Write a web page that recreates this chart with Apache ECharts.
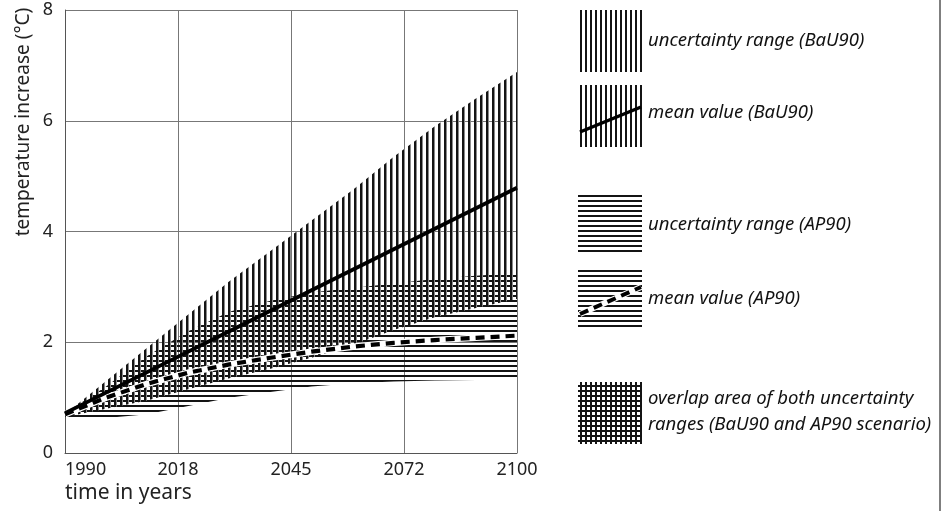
<!DOCTYPE html>
<html><head><meta charset="utf-8">
<script src="https://cdn.jsdelivr.net/npm/echarts@6/dist/echarts.min.js"></script>
<style>html,body{margin:0;padding:0;background:#fff}#c{width:942px;height:511px}</style>
</head><body><div id="c"></div>
<script>
// ---- data ----
const years    = [1990, 2000, 2010, 2020, 2030, 2040, 2050, 2060, 2070, 2080, 2090, 2100];
const bauUpper = [0.70, 1.30, 1.90, 2.50, 3.10, 3.65, 4.20, 4.75, 5.35, 5.90, 6.40, 6.88];
const bauMean  = [0.72, 1.09, 1.46, 1.83, 2.20, 2.57, 2.94, 3.31, 3.68, 4.05, 4.42, 4.79];
const bauLower = [0.65, 0.80, 0.95, 1.15, 1.35, 1.52, 1.72, 1.95, 2.22, 2.45, 2.62, 2.78];
const apUpper  = [0.72, 1.20, 1.75, 2.20, 2.55, 2.75, 2.90, 2.98, 3.06, 3.14, 3.20, 3.25];
const apMean   = [0.70, 1.00, 1.25, 1.45, 1.60, 1.72, 1.83, 1.92, 1.99, 2.04, 2.08, 2.12];
const apLower  = [0.65, 0.63, 0.70, 0.85, 1.00, 1.10, 1.20, 1.26, 1.29, 1.31, 1.32, 1.33];
const xTickLabels = ['1990', '2018', '2045', '2072', '2100'];
const yTicks = [0, 2, 4, 6, 8];
const legendTexts = [
  'uncertainty range (BaU90)',
  'mean value (BaU90)',
  'uncertainty range (AP90)',
  'mean value (AP90)',
  'overlap area of both uncertainty\nranges (BaU90 and AP90 scenario)'
];

// ---- hatch patterns ----
const INK = '#141414';
function vHatch(period, w, soft) {
  const c = document.createElement('canvas');
  c.width = period; c.height = period;
  const ctx = c.getContext('2d');
  ctx.fillStyle = INK; ctx.fillRect(0, 0, w, period);
  if (soft) { ctx.fillStyle = '#8a8a8a'; ctx.fillRect(w, 0, 1, period); }
  return c;
}
function hHatch(period, w) {
  const c = document.createElement('canvas');
  c.width = period; c.height = period;
  const ctx = c.getContext('2d');
  ctx.fillStyle = INK; ctx.fillRect(0, 0, period, w);
  return c;
}
function cross(p, w) {
  const c = document.createElement('canvas');
  c.width = p; c.height = p;
  const ctx = c.getContext('2d');
  ctx.fillStyle = INK;
  ctx.fillRect(0, 0, w, p);
  ctx.fillRect(0, 0, p, w);
  return c;
}
const vPatChart  = { image: vHatch(6, 2, true), repeat: 'repeat' };
const vPatLegend = { image: vHatch(5, 2, false), repeat: 'repeat' };
const hPat = { image: hHatch(5, 2), repeat: 'repeat' };
const xPat = { image: cross(5, 2), repeat: 'repeat' };

const pairs = arr => years.map((y, i) => [y, arr[i]]);
const FONT = '"Noto Sans", "Open Sans", sans-serif';

function bandSeries(name, lower, upper, pat, z) {
  return {
    name: name, type: 'custom', z: z, silent: true, clip: true,
    data: years.map((y, i) => [y, lower[i], upper[i]]),
    encode: { x: 0, y: [1, 2] },
    renderItem: function (params, api) {
      if (params.dataIndex !== 0) return null;
      const pts = [];
      for (let i = 0; i < years.length; i++) pts.push(api.coord([years[i], upper[i]]));
      for (let i = years.length - 1; i >= 0; i--) pts.push(api.coord([years[i], lower[i]]));
      return { type: 'polygon', shape: { points: pts }, style: { fill: pat, stroke: null } };
    }
  };
}

const series = [
  bandSeries('AP90 range', apLower, apUpper, hPat, 2),
  bandSeries('BaU90 range', bauLower, bauUpper, vPatChart, 3),
  { name: 'BaU90 mean', type: 'line', data: pairs(bauMean), showSymbol: false,
    lineStyle: { color: '#000', width: 3.8 }, z: 6 },
  { name: 'AP90 mean bg', type: 'line', data: pairs(apMean), showSymbol: false,
    lineStyle: { color: '#fff', width: 6.5 }, z: 5 },
  { name: 'AP90 mean', type: 'line', data: pairs(apMean), showSymbol: false,
    lineStyle: { color: '#000', width: 4.2, type: [9, 6] }, z: 6 }
];

// ---- legend built as graphics ----
const LX = 578, LW = 64;
const boxes = [
  { y: 10, h: 62, fill: vPatLegend },
  { y: 85, h: 62, fill: vPatLegend },
  { y: 195, h: 57, fill: hPat },
  { y: 268, h: 59, fill: hPat },
  { y: 382, h: 62, fill: xPat }
];
const textY = [41, 113, 225, 299, 412];
const graphic = [];
boxes.forEach((b, i) => {
  graphic.push({ type: 'rect', shape: { x: LX, y: b.y, width: LW, height: b.h }, style: { fill: b.fill }, silent: true });
  graphic.push({ type: 'text', x: 648, y: textY[i],
    style: { text: legendTexts[i], font: 'italic 18.5px ' + FONT, fill: '#111', align: 'left', verticalAlign: 'middle', lineHeight: 26 } });
});
graphic.push({ type: 'line', shape: { x1: 580, y1: 132, x2: 641, y2: 107 }, style: { stroke: '#000', lineWidth: 3.5 } });
graphic.push({ type: 'line', shape: { x1: 580, y1: 314, x2: 641, y2: 287 }, style: { stroke: '#fff', lineWidth: 6 } });
graphic.push({ type: 'line', shape: { x1: 580, y1: 314, x2: 641, y2: 287 }, style: { stroke: '#000', lineWidth: 4, lineDash: [9, 6] } });
graphic.push({ type: 'text', x: 24, y: 122, rotation: Math.PI / 2,
  style: { text: 'temperature increase (°C)', font: '19px ' + FONT, fill: '#222', align: 'center', verticalAlign: 'middle' } });
graphic.push({ type: 'text', x: 65, y: 493,
  style: { text: 'time in years', font: '21px ' + FONT, fill: '#222', align: 'left', verticalAlign: 'middle' } });
graphic.push({ type: 'line', shape: { x1: 940, y1: 0, x2: 940, y2: 511 }, style: { stroke: '#555', lineWidth: 1.5 } });

const chart = echarts.init(document.getElementById('c'), null, { renderer: 'canvas' });
chart.setOption({
  animation: false,
  backgroundColor: '#fff',
  grid: { left: 65, right: 425, top: 10, bottom: 58, containLabel: false },
  xAxis: [
    { type: 'value', min: years[0], max: years[years.length - 1], show: false },
    { type: 'value', min: 0, max: xTickLabels.length - 1, interval: 1, position: 'bottom',
      axisLine: { show: true, onZero: false, lineStyle: { color: '#555', width: 1 } },
      axisTick: { show: false },
      splitLine: { show: true, lineStyle: { color: '#777', width: 1 } },
      axisLabel: { formatter: v => xTickLabels[Math.round(v)], fontSize: 18, color: '#222', margin: 8,
        fontFamily: FONT, alignMinLabel: 'left' } }
  ],
  yAxis: {
    type: 'value', min: yTicks[0], max: yTicks[yTicks.length - 1], interval: yTicks[1] - yTicks[0],
    axisLine: { show: true, lineStyle: { color: '#555', width: 1 } },
    axisTick: { show: false },
    splitLine: { show: true, lineStyle: { color: '#777', width: 1 } },
    axisLabel: { fontSize: 18, color: '#222', margin: 12, fontFamily: FONT }
  },
  series: series,
  graphic: graphic
});
</script>
</body></html>
